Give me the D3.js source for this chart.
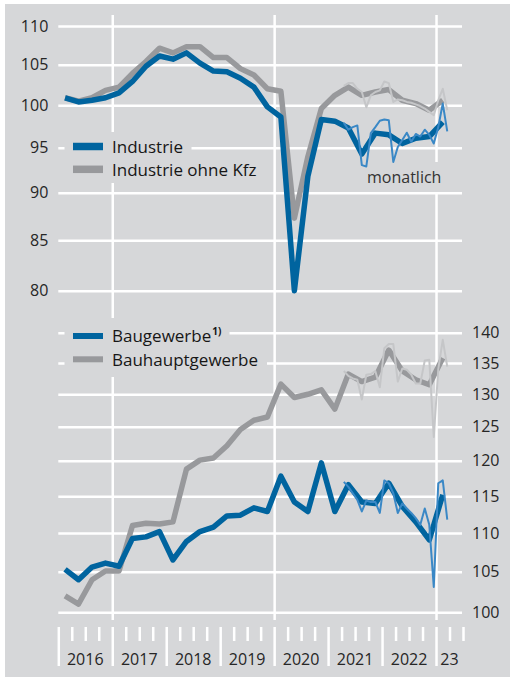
<!DOCTYPE html>
<html>
<head>
<meta charset="utf-8">
<script src="https://cdn.jsdelivr.net/npm/d3@7"></script>
<style>
  body { margin: 0; background: #fff; }
  svg text { font-family: "Open Sans", "Noto Sans", sans-serif; }
</style>
</head>
<body>
<div id="container"></div>
<script>
/* CONSTANTS AND GLOBALS */
const width = 510,
      height = 677,
      margin = {top: 15, left: 58.3, right: 463, bottom: 627};

/* DATA */
const quarters = ["2016Q1","2016Q2","2016Q3","2016Q4","2017Q1","2017Q2","2017Q3","2017Q4",
                  "2018Q1","2018Q2","2018Q3","2018Q4","2019Q1","2019Q2","2019Q3","2019Q4",
                  "2020Q1","2020Q2","2020Q3","2020Q4","2021Q1","2021Q2","2021Q3","2021Q4",
                  "2022Q1","2022Q2","2022Q3","2022Q4","2023Q1"];

const months = ["2021-04","2021-05","2021-06","2021-07","2021-08","2021-09","2021-10","2021-11","2021-12",
                "2022-01","2022-02","2022-03","2022-04","2022-05","2022-06","2022-07","2022-08","2022-09",
                "2022-10","2022-11","2022-12","2023-01","2023-02","2023-03"];

// upper panel (left axis)
const industrieQ = [100.9, 100.4, 100.6, 100.9, 101.5, 102.9, 104.8, 106.1,
                    105.7, 106.5, 105.2, 104.2, 104.1, 103.3, 102.2, 99.8,
                    98.6, 80.0, 91.8, 98.3, 98.1, 97.3, 94.3, 96.7,
                    96.5, 95.5, 96.1, 96.3, 98.0];
const ohneKfzQ = [100.9, 100.5, 100.9, 101.8, 102.2, 103.9, 105.4, 107.1,
                  106.5, 107.3, 107.3, 105.9, 105.9, 104.5, 103.7, 102.0,
                  101.7, 87.3, 94.0, 99.6, 101.2, 102.2, 101.2, 101.6,
                  101.9, 100.6, 100.2, 99.4, 100.6];
const industrieM = [97.9, 97.1, 97.4, 97.6, 93.05, 92.9, 96.7, 97.4, 98.15,
                    98.3, 98.2, 93.4, 95.1, 95.9, 96.75, 95.7, 96.6, 96.3,
                    97.1, 96.5, 95.5, 97.4, 100.2, 96.9];
const ohneKfzM = [102.35, 102.7, 102.7, 102.0, 101.6, 99.75, 101.2, 101.6, 101.8,
                  102.9, 102.7, 100.4, 100.7, 100.6, 100.4, 100.3, 100.1, 99.9,
                  99.6, 99.2, 98.8, 100.6, 102.0, 99.4];

// lower panel (right axis)
const bauQ = [105.3, 104.0, 105.6, 106.1, 105.7, 109.3, 109.5, 110.2,
              106.5, 108.9, 110.2, 110.8, 112.3, 112.4, 113.4, 112.9,
              117.8, 114.2, 112.9, 119.7, 112.9, 116.6, 114.2, 114.0,
              116.8, 113.6, 111.5, 109.1, 115.2];
const bauhauptQ = [102.0, 101.0, 104.0, 105.1, 105.1, 111.0, 111.3, 111.2,
                   111.5, 118.8, 120.1, 120.4, 122.2, 124.6, 126.0, 126.5,
                   131.6, 129.5, 130.0, 130.7, 127.7, 133.2, 132.0, 132.7,
                   137.1, 133.7, 132.3, 131.5, 135.8];
const bauM = [117.0, 116.3, 115.4, 114.5, 112.9, 114.4, 114.2, 114.2, 112.7,
              117.2, 116.8, 115.4, 112.7, 114.0, 113.3, 112.7, 112.0, 111.1,
              113.3, 111.1, 103.1, 116.8, 117.2, 111.8];
const bauhauptM = [133.7, 132.9, 132.5, 132.3, 129.2, 133.1, 133.2, 133.7, 131.1,
                   137.4, 138.1, 138.1, 132.0, 134.1, 133.9, 133.1, 131.7, 131.7,
                   135.4, 135.5, 123.5, 134.0, 138.8, 134.4];

const topTicks = [80, 85, 90, 95, 100, 105, 110];
const bottomTicks = [100, 105, 110, 115, 120, 125, 130, 135, 140];
const yearLabels = ["2016", "2017", "2018", "2019", "2020", "2021", "2022", "23"];

const colors = {bg: "#d6d7d9", blue: "#00649f", blueThin: "#3a88c6",
                gray: "#98999c", grayThin: "#c5c6c8", text: "#262626"};

/* SCALES */
const qPos = s => +s.slice(0, 4) + (+s[5] - 0.5) / 4;
const mPos = s => +s.slice(0, 4) + (+s.slice(5) - 0.5) / 12;

const xScale = d3.scaleLinear()
                 .domain([2016, 2023.5])
                 .range([margin.left, margin.right]);

const yTop = d3.scaleLog()
               .domain([80, 110])
               .range([290.7, 26]);

const yBottom = d3.scaleLog()
                  .domain([100, 140])
                  .range([612.3, 332.7]);

/* HTML ELEMENTS */
const svg = d3.select("#container")
              .append("svg")
              .attr("width", width)
              .attr("height", height);

svg.append("rect")
   .attr("x", 5).attr("y", 4)
   .attr("width", width - 5).attr("height", height - 4)
   .attr("fill", colors.bg);

const gridLen = 462 - margin.left;

function styleAxis(g) {
  g.select(".domain").remove();
  g.selectAll("line").attr("stroke", "#fff").attr("stroke-width", 2.5);
  g.selectAll("text").attr("fill", colors.text).attr("font-size", 16);
}

// horizontal grid + left labels
svg.append("g")
   .attr("transform", `translate(${margin.left}, 0)`)
   .call(d3.axisLeft(yTop).tickValues(topTicks).tickFormat(d3.format("d"))
           .tickSize(-gridLen).tickPadding(10))
   .call(styleAxis);

// horizontal grid + right labels
svg.append("g")
   .attr("transform", `translate(462, 0)`)
   .call(d3.axisRight(yBottom).tickValues(bottomTicks).tickFormat(d3.format("d"))
           .tickSize(-gridLen).tickPadding(10))
   .call(styleAxis);

// vertical grid lines
svg.append("g")
   .attr("transform", `translate(0, ${margin.top})`)
   .call(d3.axisTop(xScale).tickValues([2017, 2020, 2023]).tickFormat("")
           .tickSize(-(620 - margin.top)))
   .call(styleAxis);

// x axis: quarter ticks and year ticks
const quarterTicks = d3.range(2016, 2023.51, 0.25).filter(d => d % 1 !== 0);
svg.append("g")
   .attr("transform", `translate(0, ${margin.bottom})`)
   .call(d3.axisBottom(xScale).tickValues(quarterTicks).tickFormat("").tickSize(14))
   .call(styleAxis);

svg.append("g")
   .attr("transform", `translate(0, ${margin.bottom})`)
   .call(d3.axisBottom(xScale).tickValues(d3.range(2016, 2024)).tickFormat("").tickSize(39))
   .call(styleAxis);

svg.append("g")
   .selectAll("text")
   .data(yearLabels)
   .join("text")
   .attr("x", (d, i) => i < 7 ? xScale(2016.5 + i) : xScale(2023.25))
   .attr("y", 665)
   .attr("text-anchor", "middle")
   .attr("font-size", 16)
   .attr("fill", colors.text)
   .text(d => d);

/* LEGENDS (with background boxes that hide the grid) */
const legendTop = [
  {label: "Industrie", color: colors.blue, y: 146.5, box: [132, 158, 191.5]},
  {label: "Industrie ohne Kfz", color: colors.gray, y: 169.3, box: [158, 183, 262]}
];
const legendBottom = [
  {label: "Baugewerbe", sup: "1)", color: colors.blue, y: 336, box: [318, 348, 229.5]},
  {label: "Bauhauptgewerbe", color: colors.gray, y: 359.3, box: [348, 377, 267]}
];

function drawLegend(items, sw) {
  const g = svg.append("g");
  g.selectAll("rect.bg")
   .data(items)
   .join("rect")
   .attr("class", "bg")
   .attr("x", 64.5)
   .attr("y", d => d.box[0])
   .attr("width", d => d.box[2] - 64.5)
   .attr("height", d => d.box[1] - d.box[0])
   .attr("fill", colors.bg);
  g.selectAll("line")
   .data(items)
   .join("line")
   .attr("x1", 73).attr("x2", 103)
   .attr("y1", d => d.y).attr("y2", d => d.y)
   .attr("stroke", d => d.color)
   .attr("stroke-width", sw);
  const t = g.selectAll("text")
   .data(items)
   .join("text")
   .attr("x", 112)
   .attr("y", d => d.y + 6.3)
   .attr("font-size", 17)
   .attr("fill", "#161616")
   .text(d => d.label);
  t.filter(d => d.sup)
   .append("tspan")
   .attr("font-size", 10)
   .attr("font-weight", "bold")
   .attr("dy", -7)
   .attr("dx", 1)
   .text(d => d.sup);
}
drawLegend(legendTop, 7.5);
drawLegend(legendBottom, 6);

// "monatlich" label
svg.append("rect")
   .attr("x", 362).attr("y", 162).attr("width", 86).attr("height", 30)
   .attr("fill", colors.bg);
svg.append("text")
   .attr("x", 367).attr("y", 183.3)
   .attr("font-size", 16)
   .attr("fill", "#333")
   .text("monatlich");

/* LINES */
const lineQ = (vals, y) => d3.line()
  .x((d, i) => xScale(qPos(quarters[i])))
  .y(d => y(d))(vals);
const lineM = (vals, y) => d3.line()
  .x((d, i) => xScale(mPos(months[i])))
  .y(d => y(d))(vals);

const series = [
  {d: lineQ(ohneKfzQ, yTop), c: colors.gray, w: 5.5},
  {d: lineQ(industrieQ, yTop), c: colors.blue, w: 5.5},
  {d: lineQ(bauhauptQ, yBottom), c: colors.gray, w: 5.5},
  {d: lineQ(bauQ, yBottom), c: colors.blue, w: 5.5},
  {d: lineM(ohneKfzM, yTop), c: colors.grayThin, w: 2},
  {d: lineM(industrieM, yTop), c: colors.blueThin, w: 2},
  {d: lineM(bauhauptM, yBottom), c: colors.grayThin, w: 2},
  {d: lineM(bauM, yBottom), c: colors.blueThin, w: 2}
];

svg.append("g")
   .selectAll("path")
   .data(series)
   .join("path")
   .attr("d", d => d.d)
   .attr("fill", "none")
   .attr("stroke", d => d.c)
   .attr("stroke-width", d => d.w)
   .attr("stroke-linejoin", "round");
</script>
</body>
</html>
